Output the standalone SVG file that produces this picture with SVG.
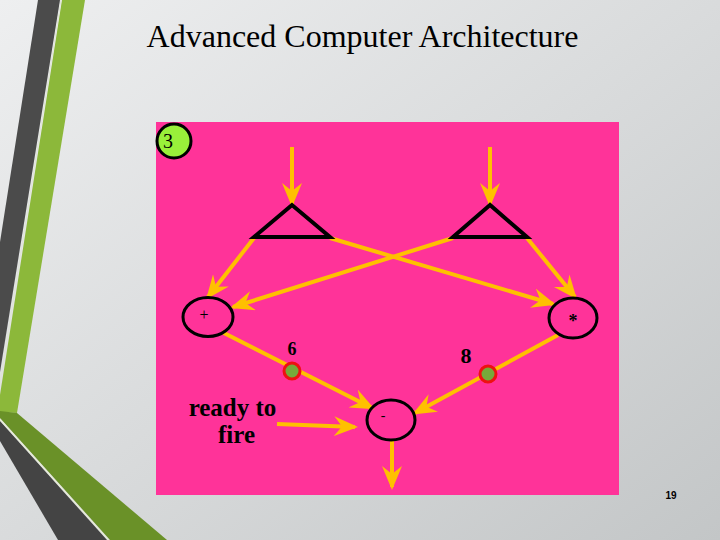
<svg xmlns="http://www.w3.org/2000/svg" width="720" height="540" viewBox="0 0 720 540">
<defs>
<linearGradient id="bg" x1="0" y1="0" x2="1" y2="1">
<stop offset="0" stop-color="#eeeff0"/>
<stop offset="0.5" stop-color="#d9dbdc"/>
<stop offset="1" stop-color="#c3c6c7"/>
</linearGradient>
<marker id="ah" markerUnits="userSpaceOnUse" viewBox="0 0 24 20" markerWidth="24" markerHeight="20" refX="21" refY="10" orient="auto">
<path d="M24,10 L0,0 L8,10 L0,20 Z" fill="#FFC000"/>
</marker>
</defs>
<style>
.conn{stroke:#FFC000;stroke-width:4;fill:none;marker-end:url(#ah)}
.tri{stroke:#000;stroke-width:4;fill:none;stroke-linejoin:miter}
.op{stroke:#000;stroke-width:3;fill:none}
.tok{fill:#76a93a;stroke:#ee1111;stroke-width:3}
.bold{font-family:"Liberation Serif","Times New Roman",serif;font-weight:bold;fill:#000}
.reg{font-family:"Liberation Serif","Times New Roman",serif;fill:#000}
</style>
<rect x="0" y="0" width="720" height="540" fill="url(#bg)"/>
<g id="decoration">
<polygon points="38,0 60,0 0,372 0,242" fill="#4b4b4b"/>
<polygon points="62,0 85,0 17,413 0,412 0,395" fill="#8cb83a"/>
<polygon points="0,411 17,413 167,540 110,540 0,418" fill="#6a9128"/>
<polygon points="0,421 107,540 58,540 0,441" fill="#444444"/>
<line x1="0" y1="419.5" x2="108.5" y2="540" stroke="#e8ecd8" stroke-width="1.2"/>
<line x1="61" y1="0" x2="0" y2="384" stroke="#e0e4d8" stroke-width="1"/>
</g>
<text id="title" x="362.5" y="47" text-anchor="middle" class="reg" font-size="32">Advanced Computer Architecture</text>
<rect id="panel" x="156" y="122" width="463" height="373" fill="#FF3399"/>
<g id="badge">
<circle cx="174" cy="141" r="17" fill="#99f03a" stroke="#000" stroke-width="3"/>
<text x="168" y="148" class="reg" font-size="20" text-anchor="middle">3</text>
</g>
<g id="connectors">
<path class="conn" d="M292,147 L292,204"/>
<path class="conn" d="M490,147 L490,204"/>
<path class="conn" d="M254,238 L208,297"/>
<path class="conn" d="M453,238 L233,307"/>
<path class="conn" d="M330,238 L553,304"/>
<path class="conn" d="M527,238 L575,297"/>
<path class="conn" d="M222,332 L372,408"/>
<path class="conn" d="M558,335 L415,413"/>
<path class="conn" d="M277,424 L355,427"/>
<path class="conn" d="M392,440 L392,487"/>
</g>
<g id="switch-left"><polygon class="tri" points="292,205 254,237 330,237"/></g>
<g id="switch-right"><polygon class="tri" points="490,205 453,237 527,237"/></g>
<g id="plus">
<ellipse class="op" cx="208" cy="317" rx="25" ry="19.5"/>
<text x="204" y="320" class="reg" font-size="16" text-anchor="middle">+</text>
</g>
<g id="times">
<ellipse class="op" cx="573" cy="318" rx="24" ry="20"/>
<text x="573" y="327" class="bold" font-size="18" text-anchor="middle">*</text>
</g>
<g id="minus">
<ellipse class="op" cx="391" cy="420" rx="24" ry="20"/>
<text x="383" y="420" class="reg" font-size="14" text-anchor="middle">-</text>
</g>
<g id="token-6">
<circle class="tok" cx="292" cy="371" r="8"/>
<text x="292" y="355" class="bold" font-size="18" text-anchor="middle">6</text>
</g>
<g id="token-8">
<circle class="tok" cx="488" cy="374" r="8"/>
<text x="466" y="363" class="bold" font-size="22" text-anchor="middle">8</text>
</g>
<g id="ready-label">
<text x="232.5" y="416" class="bold" font-size="25" text-anchor="middle">ready to</text>
<text x="236.5" y="443" class="bold" font-size="25" text-anchor="middle">fire</text>
</g>
<text id="page" x="671" y="499" font-family="'Liberation Sans',Arial,sans-serif" font-weight="bold" font-size="10" text-anchor="middle" fill="#000">19</text>
</svg>
